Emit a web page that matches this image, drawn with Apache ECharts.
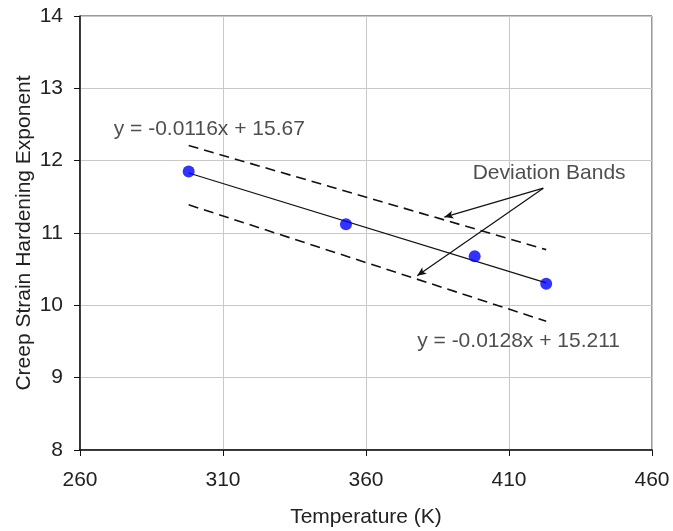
<!DOCTYPE html>
<html>
<head>
<meta charset="utf-8">
<script src="https://cdn.jsdelivr.net/npm/echarts@6/dist/echarts.min.js"></script>
<style>
  html, body { margin: 0; padding: 0; background: #fff; }
  #creep_chart { width: 673px; height: 531px; }
</style>
</head>
<body>
<div id="creep_chart"></div>
<script>
// measured points
let tempK = [298, 353, 398, 423];
let exponent = [11.85, 11.12, 10.68, 10.30];

// trend line and deviation bands (end points)
let trendX = [298, 423];
let trendY = [11.83, 10.31];
let upperBandY = [12.21, 10.77];
let lowerBandY = [11.39, 9.78];

// text annotations
let noteText = ['y = -0.0116x + 15.67', 'Deviation Bands', 'y = -0.0128x + 15.211'];
let noteX = [271.8, 397.3, 377.9];
let noteY = [12.43, 11.83, 9.51];

// arrows from the "Deviation Bands" label
let arrowFrom = [422, 11.62];
let arrowTo = [[387.4, 11.22], [377.9, 10.41]];

function pairs(xs, ys) {
    let out = [];
    for (var i = 0; i < xs.length; i++) {
        out.push([xs[i], ys[i]]);
    }
    return out;
}

function creep_chart() {
    let creepEcharts = echarts.init(document.getElementById('creep_chart'));
    window.addEventListener('resize', function () {
        creepEcharts.resize();
    });

    let font = 'Liberation Sans, Arial, sans-serif';
    let notes = [];
    for (var i = 0; i < noteText.length; i++) {
        notes.push({ name: noteText[i], value: [noteX[i], noteY[i]] });
    }
    let arrows = arrowTo.map(function (p) {
        return [{ coord: arrowFrom }, { coord: p }];
    });

    var option = {
        animation: false,
        backgroundColor: '#fff',
        grid: {
            left: 80,
            right: 21,
            top: 16,
            bottom: 81,
            outerBoundsMode: 'none',
            show: true,
            borderColor: '#333',
            borderWidth: 1
        },
        xAxis: {
            type: 'value',
            min: 260,
            max: 460,
            interval: 50,
            name: 'Temperature (K)',
            nameLocation: 'middle',
            nameGap: 57,
            nameMoveOverlap: false,
            nameTextStyle: { fontFamily: font, fontSize: 21, color: '#222' },
            axisLine: { show: true, lineStyle: { color: '#111', width: 1.5 } },
            axisTick: { show: true, inside: false, length: 6, lineStyle: { color: '#111' } },
            axisLabel: { fontFamily: font, fontSize: 21, color: '#222', margin: 20 },
            splitLine: { show: true, lineStyle: { color: '#c8c8c8', width: 1 } }
        },
        yAxis: {
            type: 'value',
            min: 8,
            max: 14,
            interval: 1,
            name: 'Creep Strain Hardening Exponent',
            nameLocation: 'middle',
            nameGap: 45,
            nameMoveOverlap: false,
            nameTextStyle: { fontFamily: font, fontSize: 21, color: '#222' },
            axisLine: { show: true, lineStyle: { color: '#111', width: 1.5 } },
            axisTick: { show: true, inside: false, length: 6, lineStyle: { color: '#111' } },
            axisLabel: { fontFamily: font, fontSize: 21, color: '#222', margin: 17 },
            splitLine: { show: true, lineStyle: { color: '#c8c8c8', width: 1 } }
        },
        series: [
            {
                name: 'trend',
                type: 'line',
                data: pairs(trendX, trendY),
                symbol: 'none',
                lineStyle: { color: '#111', width: 1.2 },
                silent: true
            },
            {
                name: 'upper band',
                type: 'line',
                data: pairs(trendX, upperBandY),
                symbol: 'none',
                lineStyle: { color: '#111', width: 1.6, type: [10, 6] },
                silent: true
            },
            {
                name: 'lower band',
                type: 'line',
                data: pairs(trendX, lowerBandY),
                symbol: 'none',
                lineStyle: { color: '#111', width: 1.6, type: [10, 6] },
                silent: true,
                markLine: {
                    silent: true,
                    symbol: ['none', 'arrow'],
                    symbolSize: [6, 9],
                    lineStyle: { color: '#111', width: 1.2, type: 'solid' },
                    label: { show: false },
                    data: arrows
                }
            },
            {
                name: 'measured',
                type: 'scatter',
                data: pairs(tempK, exponent),
                symbol: 'circle',
                symbolSize: 12,
                itemStyle: { color: '#0000ff' },
                z: 5
            },
            {
                name: 'notes',
                type: 'scatter',
                data: notes,
                symbolSize: 0,
                silent: true,
                label: {
                    show: true,
                    position: 'right',
                    distance: 0,
                    formatter: '{b}',
                    fontFamily: font,
                    fontSize: 21,
                    color: '#222'
                }
            }
        ]
    };

    option && creepEcharts.setOption(option, true);
}

creep_chart();
</script>
</body>
</html>
